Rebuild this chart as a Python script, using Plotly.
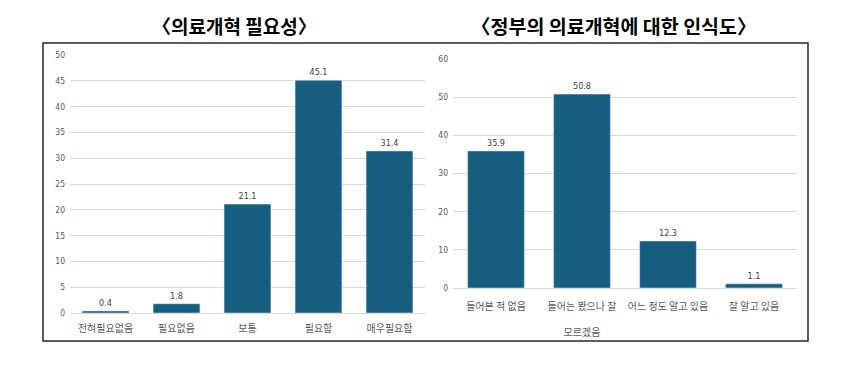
import plotly.graph_objects as go

W, H = 857, 373
OFF = 8  # page body margin

left_title = "〈의료개혁 필요성〉"
left_categories = ["전혀필요없음", "필요없음", "보통", "필요함", "매우필요함"]
left_values = [0.4, 1.8, 21.1, 45.1, 31.4]
left_ticks = [0, 5, 10, 15, 20, 25, 30, 35, 40, 45, 50]

right_title = "〈정부의 의료개혁에 대한 인식도〉"
right_categories = ["들어본 적 없음", "들어는 봤으나 잘<br><br>모르겠음", "어느 정도 알고 있음", "잘 알고 있음"]
right_values = [35.9, 50.8, 12.3, 1.1]
right_ticks = [0, 10, 20, 30, 40, 50, 60]

BAR = "#185e80"
GRID = "#d9d9d9"
NARROW = "DejaVu Sans Condensed, Liberation Sans Narrow, sans-serif"
KR = "Noto Sans CJK KR, sans-serif"

def px_x(p):
    return (p - OFF) / W

def px_y(p):
    return 1 - (p - OFF) / H

fig = go.Figure()
fig.add_trace(go.Bar(
    x=left_categories, y=left_values, marker_color=BAR, width=0.66,
    text=[f"{v:.1f}" for v in left_values], textposition="outside", cliponaxis=False,
    textfont=dict(family=NARROW, size=9, color="#404040"),
    xaxis="x", yaxis="y", showlegend=False,
))
fig.add_trace(go.Bar(
    x=right_categories, y=right_values, marker_color=BAR, width=0.66,
    text=[f"{v:.1f}" for v in right_values], textposition="outside", cliponaxis=False,
    textfont=dict(family=NARROW, size=9, color="#404040"),
    xaxis="x2", yaxis="y2", showlegend=False,
))

axis_common_x = dict(showgrid=False, showline=True, linecolor=GRID, linewidth=1,
                     ticks="", tickfont=dict(family=KR, size=10, color="#595959"),
                     fixedrange=True, automargin=False)
axis_common_y = dict(showgrid=True, gridcolor=GRID, gridwidth=1, zeroline=False,
                     showline=False, ticks="", tickfont=dict(family=NARROW, size=8.5, color="#595959"),
                     fixedrange=True, automargin=False)

fig.update_layout(
    width=W, height=H,
    margin=dict(l=0, r=0, t=0, b=0, autoexpand=False),
    paper_bgcolor="white", plot_bgcolor="white",
    bargap=0.34,
    xaxis=dict(domain=[px_x(70), px_x(425)], anchor="y", ticklabelstandoff=6, **axis_common_x),
    yaxis=dict(domain=[px_y(313), px_y(55)], anchor="x", range=[0, 50],
               tickvals=left_ticks, ticklabelstandoff=4, **axis_common_y),
    xaxis2=dict(domain=[px_x(453), px_x(797)], anchor="y2", ticklabelstandoff=9, **axis_common_x),
    yaxis2=dict(domain=[px_y(288), px_y(59)], anchor="x2", range=[0, 60],
                tickvals=right_ticks, ticklabelstandoff=4, **axis_common_y),
    shapes=[dict(type="rect", xref="paper", yref="paper",
                 x0=px_x(43), x1=px_x(808), y0=px_y(341), y1=px_y(43),
                 line=dict(color="#262626", width=1.5))],
    annotations=[
        dict(text=f"<b>{left_title}</b>", xref="paper", yref="paper",
             x=px_x(235), y=px_y(25), showarrow=False, xanchor="center", yanchor="middle",
             font=dict(family=KR, size=19, color="#000000")),
        dict(text=f"<b>{right_title}</b>", xref="paper", yref="paper",
             x=px_x(614), y=px_y(25), showarrow=False, xanchor="center", yanchor="middle",
             font=dict(family=KR, size=19.5, color="#000000")),
    ],
)

fig.write_html("out.html")
